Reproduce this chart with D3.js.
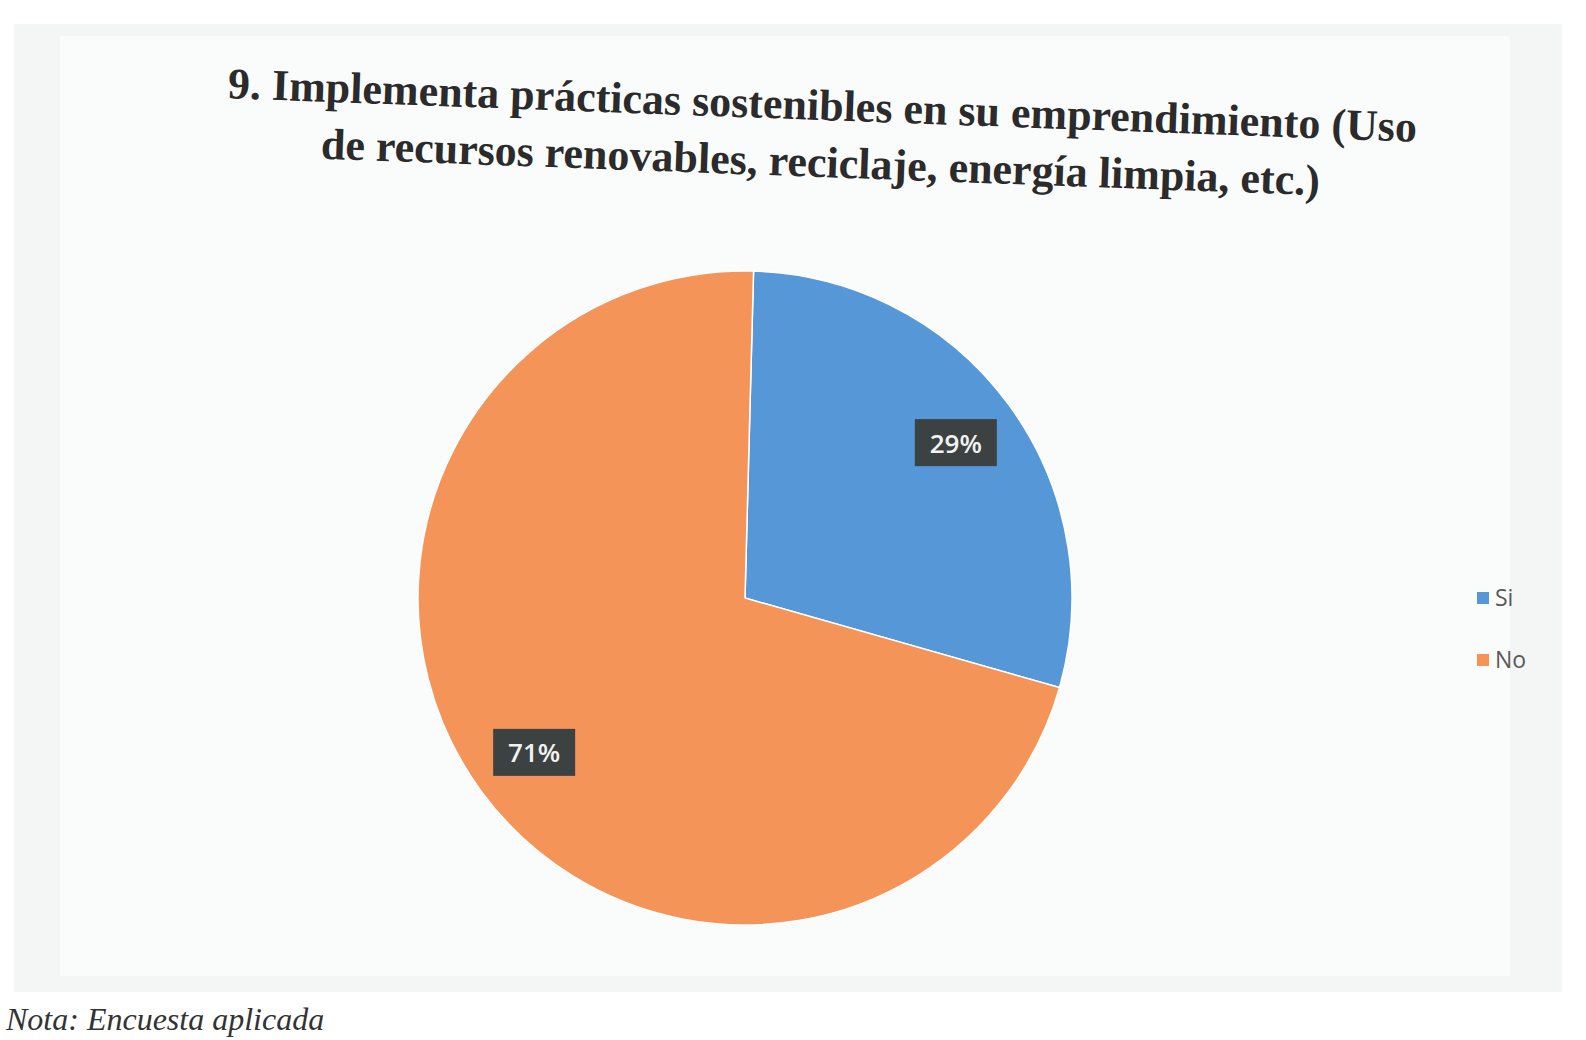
<!DOCTYPE html>
<html>
<head>
<meta charset="utf-8">
<script src="https://cdn.jsdelivr.net/npm/d3@7"></script>
<style>
  html, body { margin: 0; padding: 0; background: #ffffff; }
  svg { display: block; }
</style>
</head>
<body>
<svg id="chart" width="1586" height="1040"></svg>
<script>
const categories = ["Si", "No"];
const values = [29, 71];
const valueLabels = ["29%", "71%"];
const colors = ["#5597d7", "#f59458"];
const titleLines = [
  "9. Implementa prácticas sostenibles en su emprendimiento (Uso",
  "de recursos renovables, reciclaje, energía limpia, etc.)"
];
const noteText = "Nota: Encuesta aplicada";

const svg = d3.select("#chart");

// chart area background
svg.append("rect")
  .attr("x", 14).attr("y", 24)
  .attr("width", 1548).attr("height", 968)
  .attr("fill", "#f4f6f6");
svg.append("rect")
  .attr("x", 60).attr("y", 36)
  .attr("width", 1450).attr("height", 940)
  .attr("fill", "#fafbfb");

// title (slightly rotated as in scan)
const title = svg.append("g")
  .attr("transform", "rotate(2.1, 822, 120)");
title.selectAll("text")
  .data(titleLines)
  .join("text")
  .attr("x", 822)
  .attr("y", (d, i) => 120 + i * 57)
  .attr("text-anchor", "middle")
  .attr("font-family", "'Liberation Serif', 'Times New Roman', serif")
  .attr("font-weight", "bold")
  .attr("font-size", 44)
  .attr("fill", "#2b2b2b")
  .text(d => d);

// pie (scan is rotated slightly)
const cx = 745, cy = 598, r = 327;
const tilt = 1.5 * Math.PI / 180;
const pie = d3.pie().sort(null).value(d => d)
  .startAngle(tilt).endAngle(2 * Math.PI + tilt)(values);
const arc = d3.arc().innerRadius(0).outerRadius(r);
const labelArc = d3.arc().innerRadius(r * 0.8).outerRadius(r * 0.8);

const g = svg.append("g").attr("transform", `translate(${cx},${cy})`);
g.selectAll("path")
  .data(pie)
  .join("path")
  .attr("d", arc)
  .attr("fill", (d, i) => colors[i])
  .attr("stroke", "#ffffff")
  .attr("stroke-width", 1.5);

const lab = g.selectAll("g.lab")
  .data(pie)
  .join("g")
  .attr("class", "lab")
  .attr("transform", d => `translate(${labelArc.centroid(d)})`);
lab.append("rect")
  .attr("x", -41).attr("y", -24)
  .attr("width", 82).attr("height", 47)
  .attr("fill", "#3c4242");
lab.append("text")
  .attr("text-anchor", "middle")
  .attr("dy", "0.36em")
  .attr("font-family", "'Open Sans', 'DejaVu Sans', sans-serif")
  .attr("font-weight", "600")
  .attr("font-size", 26)
  .attr("fill", "#f2f2f2")
  .text((d, i) => valueLabels[i]);

// legend
const legend = svg.append("g").attr("transform", "translate(1477, 598)");
const li = legend.selectAll("g")
  .data(categories)
  .join("g")
  .attr("transform", (d, i) => `translate(0, ${i * 62})`);
li.append("rect")
  .attr("x", 0).attr("y", -6)
  .attr("width", 12).attr("height", 12)
  .attr("fill", (d, i) => colors[i]);
li.append("text")
  .attr("x", 18)
  .attr("dy", "0.36em")
  .attr("font-family", "'Open Sans', 'DejaVu Sans', sans-serif")
  .attr("font-size", 23)
  .attr("fill", "#595959")
  .text(d => d);

// note below the chart
svg.append("text")
  .attr("x", 6).attr("y", 1030)
  .attr("font-family", "'Liberation Serif', 'Times New Roman', serif")
  .attr("font-style", "italic")
  .attr("font-size", 32)
  .attr("fill", "#333")
  .text(noteText);
</script>
</body>
</html>
